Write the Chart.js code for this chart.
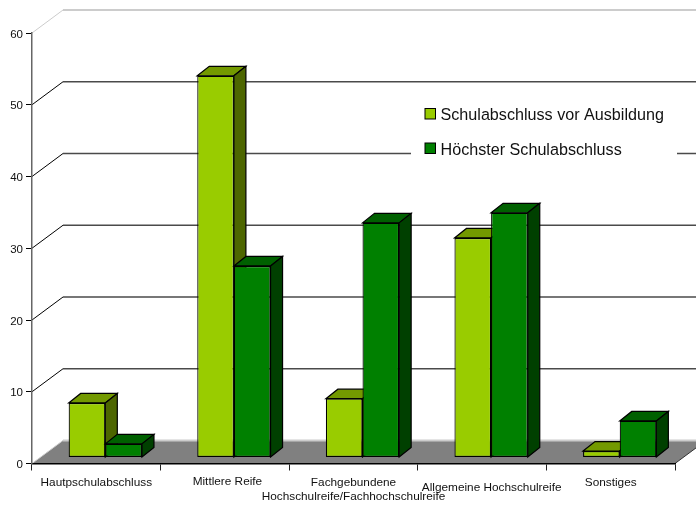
<!DOCTYPE html>
<html>
<head>
<meta charset="utf-8">
<style>html,body{margin:0;padding:0;background:#fff}canvas{display:block}</style>
<script src="https://cdn.jsdelivr.net/npm/chart.js@4"></script>
</head>
<body>
<canvas id="c" width="696" height="506"></canvas>
<script>
const categories = ["Hautpschulabschluss", "Mittlere Reife", ["Fachgebundene", "Hochschulreife/Fachhochschulreife"], "Allgemeine Hochschulreife", "Sonstiges"];
const seriesNames = ["Schulabschluss vor Ausbildung", "Höchster Schulabschluss"];
const vorAusbildung = [7.6, 53.2, 8.2, 30.6, 0.9];
const hoechster = [1.9, 26.7, 32.7, 34.1, 5.1];
const labelNudgeX = [0, 2.5, 0, 9.6, 0];
const labelNudgeY = [0, -1, 0, 5, 0];
const frontColors = ["#99CC00", "#008000"];
const topColors = ["#739900", "#006000"];
const sideColors = ["#4D6600", "#004000"];

const wall = {dx: 31, dy: -23};
const barShift = {dx: 9, dy: -6};
const barDepth = {dx: 12, dy: -9.5};

function poly(ctx, pts, fill, stroke) {
  ctx.beginPath();
  pts.forEach((p, i) => i ? ctx.lineTo(p[0], p[1]) : ctx.moveTo(p[0], p[1]));
  ctx.closePath();
  if (fill) { ctx.fillStyle = fill; ctx.fill(); }
  if (stroke) { ctx.strokeStyle = stroke; ctx.lineWidth = 1.2; ctx.stroke(); }
}

const scene = {
  id: "scene",
  beforeDraw(chart) {
    const ctx = chart.ctx, xs = chart.scales.x, ys = chart.scales.y;
    xs.getLabelItems(chart.chartArea).forEach((it, i) => {
      if (it._done) return;
      it._done = true;
      it.options.translation[0] += labelNudgeX[i];
      it.options.translation[1] += labelNudgeY[i];
    });
    ys.getLabelItems(chart.chartArea).forEach(it => {
      if (it._done) return;
      it._done = true;
      it.options.translation[1] += 1.5;
    });
    const L = xs.left, R = xs.right;
    ctx.save();
    const y0 = ys.getPixelForValue(0);
    poly(ctx, [[L, y0], [L + wall.dx, y0 + wall.dy], [R + wall.dx, y0 + wall.dy], [R, y0]], "#808080", null);
    ys.ticks.forEach(t => {
      const y = ys.getPixelForValue(t.value);
      const edge = t.value === ys.min || t.value === ys.max;
      ctx.strokeStyle = edge ? "#cccccc" : "#000000";
      ctx.lineWidth = 1;
      ctx.beginPath();
      ctx.moveTo(L, y); ctx.lineTo(L + wall.dx, y + wall.dy);
      ctx.stroke();
      ctx.strokeStyle = edge ? "#cccccc" : "#4a4a4a";
      ctx.lineWidth = edge ? 2 : 1.3;
      ctx.beginPath();
      ctx.moveTo(L + wall.dx, y + wall.dy); ctx.lineTo(R + wall.dx, y + wall.dy);
      ctx.stroke();
    });
    ctx.strokeStyle = "#333"; ctx.lineWidth = 1;
    ctx.beginPath(); ctx.moveTo(R, y0); ctx.lineTo(R + wall.dx, y0 + wall.dy); ctx.stroke();
    ctx.restore();
  },
  beforeDatasetsDraw(chart) {
    const ctx = chart.ctx;
    ctx.save();
    ctx.translate(barShift.dx, barShift.dy);
    const n = chart.data.labels.length;
    for (let i = 0; i < n; i++) {
      chart.data.datasets.forEach((ds, d) => {
        const el = chart.getDatasetMeta(d).data[i];
        const l = el.x - el.width / 2, r = el.x + el.width / 2, t = el.y, b = el.base;
        const ddx = barDepth.dx, ddy = barDepth.dy;
        poly(ctx, [[l, t], [l + ddx, t + ddy], [r + ddx, t + ddy], [r, t]], topColors[d], "#000");
        poly(ctx, [[r, t], [r + ddx, t + ddy], [r + ddx, b + ddy], [r, b]], sideColors[d], "#000");
        el.draw(ctx);
      });
    }
    ctx.restore();
    return false;
  },
  afterDraw(chart) {
    const ctx = chart.ctx;
    ctx.save();
    ctx.fillStyle = "#fff";
    ctx.fillRect(411, 95, 266, 65);
    ctx.font = "16.15px 'Liberation Sans', Arial, sans-serif";
    ctx.textBaseline = "middle";
    ctx.textAlign = "left";
    chart.data.datasets.forEach((ds, d) => {
      const y = 113.5 + d * 34.5;
      ctx.fillStyle = ds.backgroundColor;
      ctx.fillRect(425, y - 5, 10.5, 10.5);
      ctx.strokeStyle = "#000"; ctx.lineWidth = 1;
      ctx.strokeRect(425, y - 5, 10.5, 10.5);
      ctx.fillStyle = "#111";
      ctx.fillText(ds.label, 440.5, y + 2.5);
    });
    ctx.restore();
  }
};

new Chart(document.getElementById("c"), {
  type: "bar",
  data: {
    labels: categories,
    datasets: [
      {label: seriesNames[0], data: vorAusbildung, backgroundColor: frontColors[0]},
      {label: seriesNames[1], data: hoechster, backgroundColor: frontColors[1]}
    ]
  },
  options: {
    responsive: false,
    animation: false,
    devicePixelRatio: 1,
    layout: {padding: {top: 33, right: 21, left: 0, bottom: 0}},
    datasets: {bar: {categoryPercentage: 0.57, barPercentage: 1, borderColor: "#000", borderWidth: 1.2, borderSkipped: false}},
    plugins: {legend: {display: false}, tooltip: {enabled: false}, title: {display: false}},
    scales: {
      x: {
        afterFit(s) { s.height = 42.5; },
        grid: {drawOnChartArea: false, color: "#222", tickLength: 7, offset: true},
        border: {color: "#000", width: 1.5},
        ticks: {
          autoSkip: false, maxRotation: 0, minRotation: 0, padding: 5,
          color: "#111",
          font: {family: "'Liberation Sans', Arial, sans-serif", size: 11.8, lineHeight: 1.22}
        }
      },
      y: {
        min: 0, max: 60,
        afterFit(s) { s.width = 32; },
        grid: {drawOnChartArea: false, color: "#000", tickLength: 6},
        border: {color: "#666", width: 1.5},
        ticks: {
          stepSize: 10, padding: 3,
          color: "#111",
          font: {family: "'Liberation Sans', Arial, sans-serif", size: 11.5}
        }
      }
    }
  },
  plugins: [scene]
});
</script>
</body>
</html>
